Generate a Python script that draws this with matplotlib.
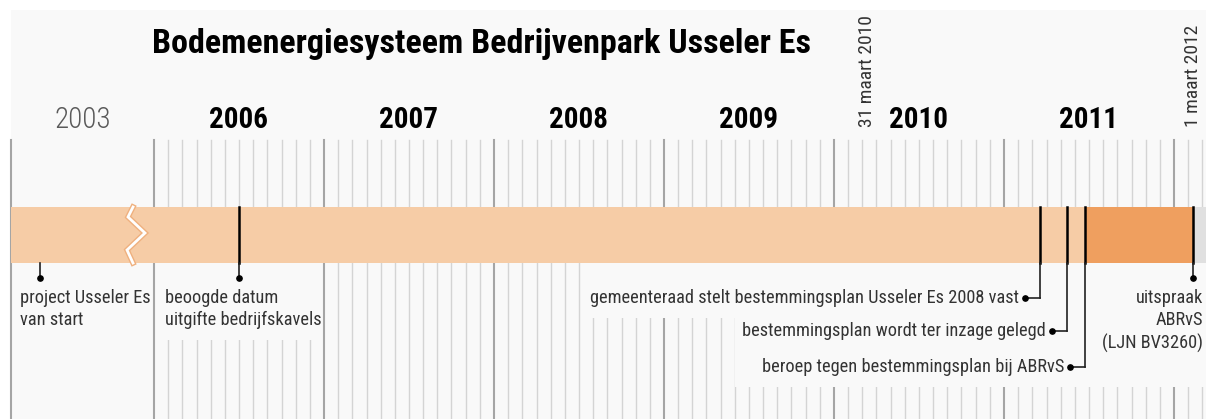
# Tijdlijn bodemenergiesysteem Usseler Es
import matplotlib
matplotlib.use('Agg')
import matplotlib.pyplot as plt
from matplotlib.patches import Rectangle

plt.rcParams['font.family'] = ['Roboto Condensed', 'Liberation Sans', 'DejaVu Sans']

# --- data ---
title = 'Bodemenergiesysteem Bedrijvenpark Usseler Es'
years = [2006, 2007, 2008, 2009, 2010, 2011]
break_label = '2003'

# gebeurtenissen (decimaal jaar)
ev_start = 2003.6
ev_beoogd = 2006.5
ev_vaststelling = 2011.21
ev_inzage = 2011.37
ev_beroep = 2011.476
ev_uitspraak = 2012.11

lbl_start = 'project Usseler Es\nvan start'
lbl_beoogd = 'beoogde datum\nuitgifte bedrijfskavels'
lbl_vaststelling = 'gemeenteraad stelt bestemmingsplan Usseler Es 2008 vast'
lbl_inzage = 'bestemmingsplan wordt ter inzage gelegd'
lbl_beroep = 'beroep tegen bestemmingsplan bij ABRvS'
lbl_uitspraak = 'uitspraak\nABRvS\n(LJN BV3260)'

# peildata boven de balk
peil_dates = [2010.25, 2012.167]
peil_labels = ['31 maart 2010', '1 maart 2012']

# --- opmaak ---
W, H = 1206, 419
BG = '#f9f9f9'
LIGHT = '#f6cca6'
DARK = '#ef9f5f'
GREY = '#e0e0e0'
PX_PER_MONTH = 170 / 12.0
X0_PX = 154                      # begin 2006 in pixels
BREAK_W = (154 - 11) / PX_PER_MONTH  # breedte 2003-blok in maanden


def xm(year):
    # decimaal jaar -> maanden sinds jan 2006 (2003-blok samengedrukt)
    if year < 2006:
        return -BREAK_W + (year - 2003) / 3.0 * BREAK_W
    return (year - 2006) * 12.0


def px(p):
    return (p - X0_PX) / PX_PER_MONTH


fig = plt.figure(figsize=(W / 100, H / 100), dpi=100, facecolor='white')
ax = fig.add_axes([0, 0, 1, 1])
ax.set_xlim(px(0), px(W))
ax.set_ylim(H, 0)
ax.axis('off')

xmin, xmax = px(0), px(W)
left = -BREAK_W

# achtergrond
ax.add_patch(Rectangle((left, 10), xmax - left, H - 10, facecolor=BG, edgecolor='none', zorder=0))

bar_top, bar_bot = 207, 263
grid_top = 140

# maandlijnen
end_m = xm(peil_dates[-1])
m = 1
while m <= end_m + 0.01:
    if m % 12 != 0:
        ax.plot([m, m], [grid_top, H], color='#d4d4d4', lw=1.0, zorder=1)
    m += 1
for yr in years + [2012]:
    xx = xm(yr)
    ax.plot([xx, xx], [grid_top, H], color='#a5a5a5', lw=1.5, zorder=1)
ax.plot([left, left], [grid_top, H], color='#a5a5a5', lw=1.5, zorder=1)

# maskers achter de teksten
masks = [
    (px(158), px(322), bar_bot, 340),
    (px(586), px(740), bar_bot, 318),
    (px(735), xmax, bar_bot, 387),
]
for a, b, y0, y1 in masks:
    ax.add_patch(Rectangle((a, y0), b - a, y1 - y0, facecolor=BG, edgecolor='none', zorder=2))

# balk
ax.add_patch(Rectangle((left, bar_top), xm(ev_beroep) - left, bar_bot - bar_top,
                       facecolor=LIGHT, edgecolor='none', zorder=3))
ax.add_patch(Rectangle((xm(ev_beroep), bar_top), xm(ev_uitspraak) - xm(ev_beroep), bar_bot - bar_top,
                       facecolor=DARK, edgecolor='none', zorder=3))
ax.add_patch(Rectangle((xm(ev_uitspraak), bar_top), xmax - xm(ev_uitspraak), bar_bot - bar_top,
                       facecolor=GREY, edgecolor='none', zorder=3))

# zigzag breuk in het 2003-blok
zx = [px(133), px(128), px(145), px(127), px(133)]
zy = [bar_top, 217, 233, 250, bar_bot]
ax.plot(zx, zy, color='#efb07e', lw=4, zorder=4, solid_joinstyle='miter')
ax.plot(zx, zy, color='white', lw=2, zorder=5, solid_joinstyle='miter')

# jaartallen
ax.text(xm(2004.5), 128, break_label, ha='center', va='baseline', fontsize=21,
        color='#5a5a5a', fontweight='light')
for yr in years:
    ax.text(xm(yr + 0.5), 128, str(yr), ha='center', va='baseline', fontsize=21,
            fontweight='bold', color='black')

ax.text(px(482), 53, title, ha='center', va='baseline', fontsize=24.5, fontweight='bold', color='black')

for d, lab in zip(peil_dates, peil_labels):
    ax.text(xm(d), 127, lab, rotation=90, ha='right', va='bottom', fontsize=14, color='#333333')

LINE = '#222222'
TXT = '#333333'
fs = 13.2
dot_y = 278


def leader(x, y_end):
    ax.plot([x, x], [bar_top, bar_bot], color='black', lw=1.8, zorder=6)
    ax.plot([x, x], [bar_bot, y_end], color=LINE, lw=1.2, zorder=6)


# start project (alleen onder de balk)
xs = xm(ev_start)
ax.plot([xs, xs], [bar_bot, dot_y], color=LINE, lw=1.2, zorder=6)
ax.plot(xs, dot_y, 'o', color='black', ms=3.8, zorder=7)
ax.text(px(20), 309, lbl_start, ha='left', va='center', fontsize=fs, color=TXT, linespacing=1.3)

# beoogde datum
xb = xm(ev_beoogd)
leader(xb, dot_y)
ax.plot(xb, dot_y, 'o', color='black', ms=3.8, zorder=7)
ax.text(px(165), 309, lbl_beoogd, ha='left', va='center', fontsize=fs, color=TXT, linespacing=1.3)

# gebeurtenissen rechts met knik
for ev, lab, ey in [(ev_vaststelling, lbl_vaststelling, 298),
                    (ev_inzage, lbl_inzage, 331),
                    (ev_beroep, lbl_beroep, 367)]:
    xe = xm(ev)
    leader(xe, ey)
    xd = xe - 15 / PX_PER_MONTH
    ax.plot([xd, xe], [ey, ey], color=LINE, lw=1.2, zorder=6)
    ax.plot(xd, ey, 'o', color='black', ms=3.8, zorder=7)
    ax.text(xd - 6 / PX_PER_MONTH, ey, lab, ha='right', va='center', fontsize=fs, color=TXT)

# uitspraak
xu = xm(ev_uitspraak)
leader(xu, dot_y)
ax.plot(xu, dot_y, 'o', color='black', ms=3.8, zorder=7)
ax.text(px(1203), 321, lbl_uitspraak, ha='right', va='center', fontsize=fs, color=TXT,
        linespacing=1.3, multialignment='right')

plt.savefig('out.png', dpi=100, facecolor='white')
